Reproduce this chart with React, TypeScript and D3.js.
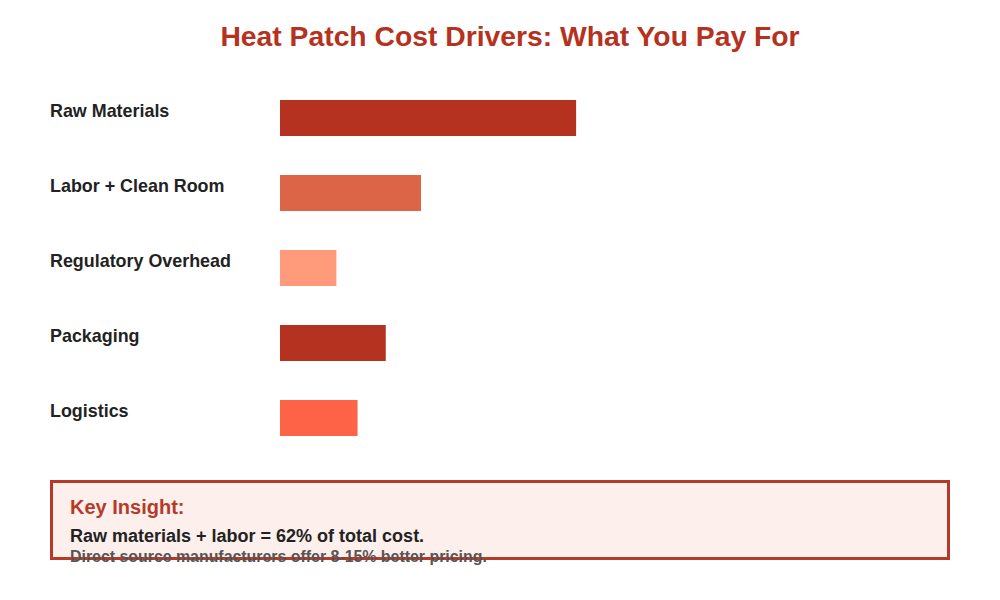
import React from 'react';
import * as d3 from 'd3';

const CATEGORIES = ['Raw Materials', 'Labor + Clean Room', 'Regulatory Overhead', 'Packaging', 'Logistics'];
const SHARES = [42, 20, 8, 15, 11];
const COLORS = ['#b53220', '#dc6548', '#ff9a7a', '#b53220', '#ff6347'];

const TITLE = 'Heat Patch Cost Drivers: What You Pay For';
const INSIGHT_HEAD = 'Key Insight:';
const INSIGHT_MAIN = 'Raw materials + labor = 62% of total cost.';
const INSIGHT_SUB = 'Direct source manufacturers offer 8-15% better pricing.';

const W = 1000;
const H = 600;
const FONT = "'Liberation Sans', Arial, sans-serif";

export default function App() {
  const barX = 280;
  const x = d3.scaleLinear().domain([0, 100]).range([0, 705]);
  const rowTop = d3.scaleLinear().domain([0, 1]).range([100, 175]);

  return (
    <svg width={W} height={H} style={{ position: 'absolute', left: 0, top: 0, background: '#fff' }} fontFamily={FONT}>
      <text x={510} y={46} textAnchor="middle" fontSize={28.3} fontWeight={700} fill="#b53220">
        {TITLE}
      </text>

      {CATEGORIES.map((c, i) => {
        const top = rowTop(i);
        return (
          <g key={c}>
            <text x={50} y={top + 17} fontSize={17.9} fontWeight={700} fill="#222">
              {c}
            </text>
            <rect x={barX} y={top} width={x(SHARES[i])} height={36} fill={COLORS[i]} />
          </g>
        );
      })}

      <rect x={51.5} y={481.5} width={897} height={77} fill="#fdefeb" stroke="#b53a2a" strokeWidth={3} />
      <text x={70} y={514} fontSize={20} fontWeight={700} fill="#b53a2a">{INSIGHT_HEAD}</text>
      <text x={70} y={542} fontSize={18} fontWeight={700} fill="#222">{INSIGHT_MAIN}</text>
      <text x={70} y={562} fontSize={15.9} fontWeight={700} fill="#555">{INSIGHT_SUB}</text>
    </svg>
  );
}
